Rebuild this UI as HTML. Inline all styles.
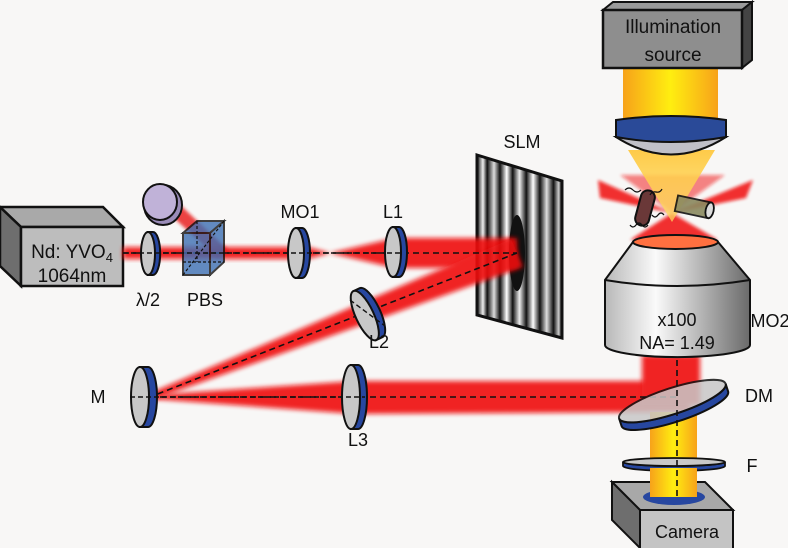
<!DOCTYPE html>
<html><head><meta charset="utf-8"><style>
html,body{margin:0;padding:0;background:#f8f7f6;}
svg{display:block;}
text{font-family:"Liberation Sans",sans-serif;fill:#111;}
</style></head><body>
<svg width="788" height="548" viewBox="0 0 788 548" xmlns="http://www.w3.org/2000/svg">
<defs>
<filter id="blur" x="-10%" y="-30%" width="120%" height="160%"><feGaussianBlur stdDeviation="2.5"/></filter>
<filter id="blur2"><feGaussianBlur stdDeviation="1.5"/></filter>
<linearGradient id="orng" x1="0" x2="1"><stop offset="0" stop-color="#f7a21a"/><stop offset="0.5" stop-color="#ffee10"/><stop offset="1" stop-color="#f7a21a"/></linearGradient>
<linearGradient id="gray" x1="0" x2="1"><stop offset="0" stop-color="#b8b8b8"/><stop offset="0.35" stop-color="#fafafa"/><stop offset="1" stop-color="#6a6a6a"/></linearGradient>
<linearGradient id="yel" x1="0" y1="0" x2="0" y2="1"><stop offset="0" stop-color="#ffc840" stop-opacity="0.95"/><stop offset="1" stop-color="#ffe060" stop-opacity="0.7"/></linearGradient>
<linearGradient id="slm" x1="0" x2="1">
<stop offset="0" stop-color="#111"/><stop offset="0.07" stop-color="#eee"/><stop offset="0.12" stop-color="#111"/><stop offset="0.2" stop-color="#ddd"/><stop offset="0.27" stop-color="#111"/><stop offset="0.35" stop-color="#fff"/><stop offset="0.42" stop-color="#111"/><stop offset="0.5" stop-color="#eee"/><stop offset="0.58" stop-color="#111"/><stop offset="0.66" stop-color="#fff"/><stop offset="0.74" stop-color="#111"/><stop offset="0.82" stop-color="#ddd"/><stop offset="0.9" stop-color="#111"/><stop offset="0.96" stop-color="#ccc"/><stop offset="1" stop-color="#111"/></linearGradient>
</defs>

<polygon points="0,207 103,207 123,227 21,227" fill="#a9a9a9" stroke="#111" stroke-width="2.5"/>
<polygon points="0,207 21,227 21,286 0,266" fill="#6e6e6e" stroke="#111" stroke-width="2.5"/>
<rect x="21" y="227" width="102" height="59" fill="#bdbdbd" stroke="#111" stroke-width="2.5"/>
<text x="72" y="258" font-size="19" text-anchor="middle">Nd: YVO<tspan font-size="13" dy="4">4</tspan></text>
<text x="72" y="282" font-size="19" text-anchor="middle">1064nm</text>

<polygon points="477,155 562,181 562,338 477,315" fill="url(#slm)" stroke="#111" stroke-width="3"/>
<ellipse cx="517" cy="253" rx="8" ry="38" fill="#111"/>

<g fill="#f01010" opacity="0.9">
<rect x="123" y="247" width="175" height="12" filter="url(#blur)"/>
<polygon points="300,245 330,253 300,261" filter="url(#blur)"/>
<polygon points="330,253 395,238 517,238 517,268 395,268" filter="url(#blur)"/>
<polygon points="511,239 523,267 152,400 148,394" filter="url(#blur)"/>
<polygon points="152,395 355,381 690,381 690,412 355,414 152,399" filter="url(#blur)"/>
<rect x="642" y="355" width="58" height="50" filter="url(#blur)"/>
</g>
<g fill="#f01010" opacity="0.85" filter="url(#blur2)">
<polygon points="598,180 672,213 600,198"/>
<polygon points="753,180 672,213 746,198"/>
<polygon points="620,175 672,213 725,175" opacity="0.6"/>
<polygon points="672,213 718,240 630,240"/>
</g>
<polygon points="165,210 175,200 228,250 218,258" fill="#e81818" opacity="0.8" filter="url(#blur2)"/>
<g stroke="#111" stroke-width="1.6" stroke-dasharray="6,4" fill="none">
<line x1="123" y1="253" x2="517" y2="253"/>
<line x1="517" y1="253" x2="150" y2="397"/>
<line x1="150" y1="397" x2="677" y2="397"/>
</g>

<ellipse cx="163" cy="205" rx="19" ry="20" fill="#9a8cb8" stroke="#111" stroke-width="2"/>
<ellipse cx="160" cy="202" rx="17" ry="18" fill="#c0b2d8" stroke="#111" stroke-width="2"/>
<g stroke="#111" stroke-width="2" fill="#3d6fb3" opacity="0.8">
<polygon points="183,233 197,221 224,221 210,233"/>
<polygon points="210,233 224,221 224,262 210,275"/>
<rect x="183" y="233" width="27" height="42"/>
</g>
<g stroke="#111" stroke-width="1.2" stroke-dasharray="3,2" fill="none"><line x1="197" y1="221" x2="197" y2="262"/><line x1="183" y1="262" x2="224" y2="262"/><line x1="183" y1="275" x2="224" y2="221"/></g>

<g stroke="#111" stroke-width="2">
<path d="M148,232 h5 a7,21 0 0 1 0,43 h-5 z" fill="#2747a0"/><ellipse cx="148" cy="253.5" rx="7" ry="21.5" fill="#c8c8c8"/>
<path d="M296,228 h6 a8,25 0 0 1 0,50 h-6 z" fill="#2747a0"/><ellipse cx="296" cy="253" rx="8" ry="25" fill="#c8c8c8"/>
<path d="M393,227 h6 a8,25 0 0 1 0,50 h-6 z" fill="#2747a0"/><ellipse cx="393" cy="252" rx="8" ry="25" fill="#c8c8c8"/>
<g transform="rotate(-25 368 313)"><path d="M364,287 h7 a9,27 0 0 1 0,54 h-7 z" fill="#2747a0"/><ellipse cx="364" cy="314" rx="9" ry="27" fill="#c8c8c8"/></g>
<path d="M140,367 h8 a9,30 0 0 1 0,60 h-8 z" fill="#2747a0"/><ellipse cx="140" cy="397" rx="9" ry="30" fill="#c8c8c8"/>
<path d="M351,365 h7 a9,32 0 0 1 0,64 h-7 z" fill="#2747a0"/><ellipse cx="351" cy="397" rx="9" ry="32" fill="#c8c8c8"/>
</g>
<g stroke="#111" stroke-width="1.4" stroke-dasharray="5,3">
<line x1="123" y1="253" x2="400" y2="253"/>
<line x1="130" y1="397" x2="365" y2="397"/>
<line x1="350" y1="300" x2="385" y2="326"/>
</g>

<rect x="623" y="68" width="95" height="52" fill="url(#orng)"/>
<polygon points="628,150 715,150 672,222" fill="url(#yel)"/>
<polygon points="603,10 613,2 752,2 742,10" fill="#9a9a9a" stroke="#111" stroke-width="2"/>
<polygon points="742,10 752,2 752,60 742,68" fill="#444" stroke="#111" stroke-width="2"/>
<rect x="603" y="10" width="139" height="58" fill="#8e8e8e" stroke="#111" stroke-width="2.5"/>
<text x="673" y="33" font-size="19" text-anchor="middle">Illumination</text>
<text x="673" y="61" font-size="19" text-anchor="middle">source</text>
<path d="M616,137 Q671,172 726,137 Z" fill="#c0c0c8" stroke="#111" stroke-width="2"/>
<path d="M616,120 Q671,112 726,120 L726,137 Q671,147 616,137 Z" fill="#2a4a98" stroke="#111" stroke-width="2"/>

<g transform="rotate(-75 645 208)"><rect x="627" y="201" width="36" height="14" rx="7" fill="#6a3838" stroke="#111" stroke-width="2"/></g>
<g fill="none" stroke="#111" stroke-width="1.2"><path d="M625,190 q4,-4 8,0 t8,0"/><path d="M630,225 q3,4 6,0 t6,0 t6,0"/><path d="M652,215 q3,4 6,0 t6,0"/><path d="M650,195 q2,-4 6,-3 t6,-3"/></g>
<g transform="rotate(12 694 207)"><rect x="676" y="199" width="34" height="16" fill="#8a8a60" stroke="#111" stroke-width="1.8" opacity="0.9"/><ellipse cx="710" cy="207" rx="4" ry="8" fill="#ddd" stroke="#111" stroke-width="1.8"/></g>

<path d="M633,242 L605,280 L605,345 A72,12 0 0 0 750,345 L750,280 L718,242 Z" fill="url(#gray)" stroke="#111" stroke-width="2"/>
<ellipse cx="675.5" cy="242" rx="42.5" ry="7" fill="#ff7040" stroke="#111" stroke-width="2"/>
<path d="M605,280 Q677,292 750,280" fill="none" stroke="#111" stroke-width="2"/>
<text x="677" y="326" font-size="18" text-anchor="middle">x100</text>
<text x="677" y="349" font-size="18" text-anchor="middle">NA= 1.49</text>

<rect x="650" y="412" width="47" height="85" fill="url(#orng)"/>
<g transform="rotate(-18 673 403)"><path d="M617,401 A56,13 0 0 0 729,401 L729,409 A56,13 0 0 1 617,409 Z" fill="#2747a0" stroke="#111" stroke-width="2"/><ellipse cx="673" cy="401" rx="56" ry="13" fill="#c8c8c8" stroke="#111" stroke-width="2" opacity="0.85"/></g>
<path d="M623,462 A51,4 0 0 0 725,462 L725,466 A51,5 0 0 1 623,466 Z" fill="#2747a0" stroke="#111" stroke-width="1.8"/>
<ellipse cx="674" cy="462" rx="51" ry="4" fill="#c8c8c8" stroke="#111" stroke-width="1.8"/>
<polygon points="612,482 705,482 733,510 640,510" fill="#a8a8a8" stroke="#111" stroke-width="2"/>
<polygon points="612,482 640,510 640,548 612,520" fill="#6e6e6e" stroke="#111" stroke-width="2"/>
<rect x="640" y="510" width="93" height="40" fill="#c4c4c4" stroke="#111" stroke-width="2"/>
<ellipse cx="674" cy="497" rx="31" ry="8" fill="#2747a0"/>
<rect x="650" y="468" width="47" height="29" fill="url(#orng)"/>
<line x1="677" y1="360" x2="677" y2="497" stroke="#111" stroke-width="1.6" stroke-dasharray="6,4"/>
<text x="687" y="538" font-size="18" text-anchor="middle">Camera</text>

<g font-size="18">
<text x="300" y="218" text-anchor="middle">MO1</text>
<text x="393" y="218" text-anchor="middle">L1</text>
<text x="522" y="148" text-anchor="middle">SLM</text>
<text x="148" y="306" text-anchor="middle">λ/2</text>
<text x="205" y="306" text-anchor="middle">PBS</text>
<text x="379" y="348" text-anchor="middle">L2</text>
<text x="98" y="403" text-anchor="middle">M</text>
<text x="358" y="446" text-anchor="middle">L3</text>
<text x="770" y="327" text-anchor="middle">MO2</text>
<text x="759" y="402" text-anchor="middle">DM</text>
<text x="752" y="472" text-anchor="middle">F</text>
</g>
</svg>
</body></html>
